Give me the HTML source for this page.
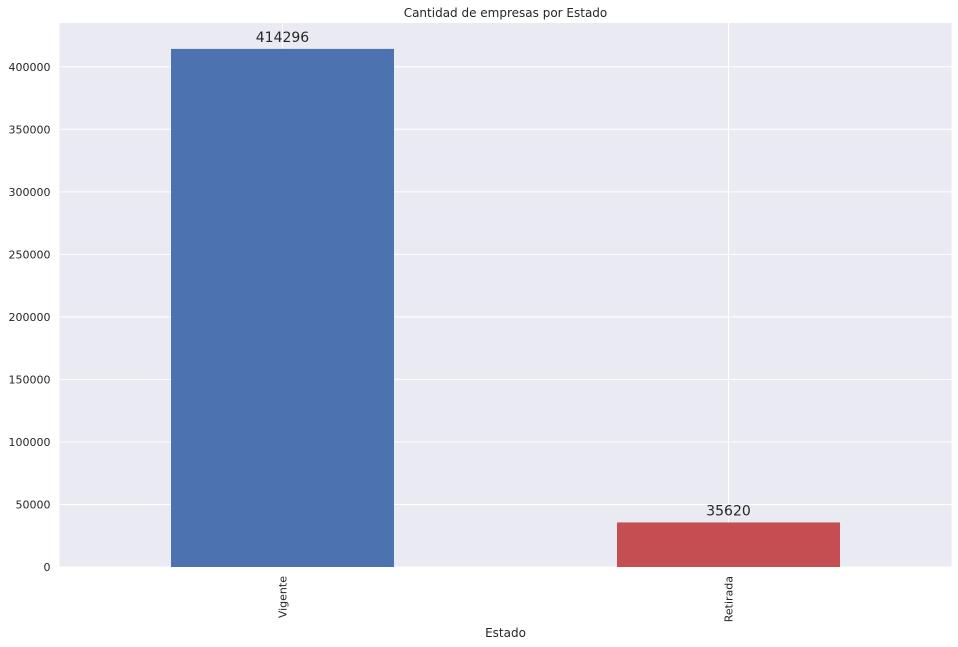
<!DOCTYPE html>
<html><head><meta charset="utf-8"><style>
body{margin:0;background:#fff;}
svg{display:block;font-family:"DejaVu Sans","Liberation Sans",sans-serif;}
</style></head><body>
<svg id="chart" width="958" height="647">
<rect x="59.5" y="23" width="892" height="544" fill="#eaeaf2"/>
<g id="grid"></g><g id="bars"></g><g id="yticks"></g><g id="xticks"></g>
<text x="505.5" y="17" text-anchor="middle" font-size="12" fill="#262626">Cantidad de empresas por Estado</text>
<text x="505.5" y="637" text-anchor="middle" font-size="12" fill="#262626">Estado</text>
</svg>
<script>
const categories=["Vigente","Retirada"];
const values=[414296,35620];
const colors=["#4c72b0","#c44e52"];
const yTicks=[0,50000,100000,150000,200000,250000,300000,350000,400000];
const NS="http://www.w3.org/2000/svg";
const L=59.5,R=951.5,B=567,T=23,yMax=435011;
const y=v=>B-(B-T)*v/yMax;
const x=i=>L+(R-L)*(i+0.5)/categories.length;
const bw=(R-L)/categories.length*0.5;
function mk(tag,attrs,parent){const e=document.createElementNS(NS,tag);for(const k in attrs)e.setAttribute(k,attrs[k]);document.getElementById(parent).appendChild(e);return e;}
yTicks.forEach(t=>{
 const g=mk("line",{x1:L,x2:R,y1:y(t),y2:y(t),stroke:"#fff","stroke-width":1},"grid");
 
 
 const lb=mk("text",{x:L-9,y:y(t)+4,"text-anchor":"end","font-size":"11",fill:"#262626"},"yticks");
 lb.textContent=t;
 
 
});
categories.forEach((c,i)=>{
 const g=mk("line",{x1:x(i),x2:x(i),y1:T,y2:B,stroke:"#fff","stroke-width":1},"grid");
 
 
 const r=mk("rect",{x:x(i)-bw/2,y:y(values[i]),width:bw,height:B-y(values[i]),fill:colors[i]},"bars");
 
 
 const v=mk("text",{x:x(i),y:y(values[i])-7,"text-anchor":"middle","font-size":"14",fill:"#262626"},"bars");
 v.textContent=values[i];
 
 
 const lb=mk("text",{x:x(i)+4,y:B+9,"text-anchor":"end","font-size":"11",fill:"#262626",transform:`rotate(-90 ${x(i)+4} ${B+9})`},"xticks");
 lb.textContent=c;
 
 
});
</script>
</body></html>
